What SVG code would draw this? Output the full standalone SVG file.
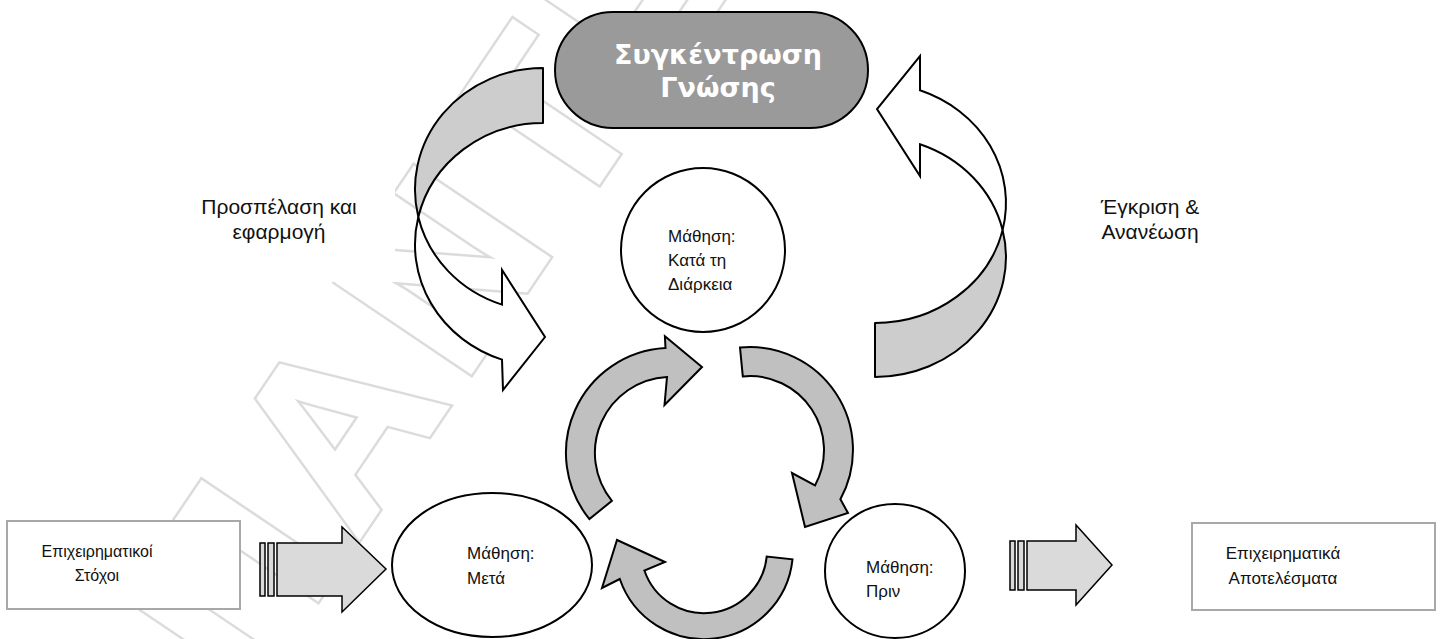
<svg xmlns="http://www.w3.org/2000/svg" width="1443" height="639" viewBox="0 0 1443 639">
  <defs>
    <style>
      .lbl{font-family:"Liberation Sans",Arial,sans-serif;font-size:21px;fill:#111}
      .txt{font-family:"Liberation Sans",Arial,sans-serif;font-size:17px;fill:#111}
      .sm{font-size:16px}
      .mid{text-anchor:middle}
      .title{font-family:"DejaVu Sans","Liberation Sans",sans-serif;font-weight:bold;font-size:27px;fill:#fff;text-anchor:middle}
      .node{fill:#fff;stroke:#000;stroke-width:2}
      .box{fill:#fff;stroke:#a8a8a8;stroke-width:2}
      .back{fill:#cdcdcd;stroke:#000;stroke-width:2;stroke-linejoin:round}
      .front{fill:#fff;stroke:#000;stroke-width:2;stroke-linejoin:miter}
      .cyc{fill:#c0c0c0;stroke:#000;stroke-width:2;stroke-linejoin:miter}
      .flow{fill:#dadada;stroke:#000;stroke-width:1.5}
      .wm{font-family:"Liberation Sans",Arial,sans-serif;font-weight:bold;font-size:235px;letter-spacing:20px}
    </style>
    <filter id="soft" x="-10%" y="-10%" width="120%" height="120%">
      <feGaussianBlur stdDeviation="0.7"/>
    </filter>
  </defs>

  <rect width="1443" height="639" fill="#fff"/>

  <!-- faint background watermark -->
  <g id="watermark" filter="url(#soft)" opacity="0.5">
    <text class="wm" transform="translate(250,700) rotate(-56)" fill="none" stroke="#b9b9b9" stroke-width="8">ΠΑΝΤΕΙΟ</text>
    <text class="wm" transform="translate(250,700) rotate(-56)" fill="#fff" stroke="#fff" stroke-width="3">ΠΑΝΤΕΙΟ</text>
  </g>

  <!-- plain backdrop under the left side label -->
  <rect x="158" y="185" width="237" height="97" fill="#fff"/>

  <g id="connectors">
    <!-- left curved arrow: back band then front band with head -->
    <path class="back" d="M543,68 A128,121.5 0 0 0 418.3,217 A128,121.5 0 0 1 543,123 Z"/>
    <path class="front" d="M418.3,217 A128,121.5 0 0 0 502,359.6 L503,390 L545,337 L502,270 L502,304.6 A128,121.5 0 0 1 418.3,217 Z"/>

    <!-- right curved arrow -->
    <path class="back" d="M1002.6,230 A131,120 0 0 1 875,377 L875,323 A131,120 0 0 0 1002.6,230 Z"/>
    <path class="front" d="M1002.6,230 A131,120 0 0 0 920,90.3 L920,56 L877,109 L920,176 L920,144.3 A131,120 0 0 1 1002.6,230 Z"/>

    <!-- cycle of three circular arrows -->
    <path class="cyc" d="M589.4,519.1 A105,105 0 0 1 665.5,348.1 L664.9,336.2 L702,367 L664.5,405 L667,377 A76,76 0 0 0 611.9,500.8 Z"/>
    <path class="cyc" d="M740,347.5 A103,103 0 0 1 840.4,499.3 L848,513 L805,527 L792,473 L815,485.4 A74,74 0 0 0 742.8,376.4 Z"/>
    <path class="cyc" d="M792.5,559.3 A89,89 0 0 1 619.8,579 L602,588 L617,540 L665,562 L644.4,570.5 A63,63 0 0 0 766.7,556.6 Z"/>

    <!-- striped input arrow -->
    <rect class="flow" x="260" y="543" width="5" height="53"/>
    <rect class="flow" x="268" y="543" width="6" height="53"/>
    <path class="flow" d="M277,543 L342,543 L342,527 L386,569 L342,612 L342,596 L277,596 Z"/>

    <!-- striped output arrow -->
    <rect class="flow" x="1010" y="541" width="5" height="49"/>
    <rect class="flow" x="1018" y="541" width="6" height="49"/>
    <path class="flow" d="M1027,541 L1076,541 L1076,525 L1112,565 L1076,605 L1076,590 L1027,590 Z"/>
  </g>

  <g id="n-knowledge">
    <rect x="555" y="12" width="313" height="116" rx="58" ry="58" fill="#9a9a9a" stroke="#000" stroke-width="2"/>
    <text class="title" x="718" y="64">Συγκέντρωση</text>
    <text class="title" x="718" y="97">Γνώσης</text>
  </g>

  <g id="n-during">
    <circle class="node" cx="703" cy="250" r="82"/>
    <text class="txt" x="668" y="242">Μάθηση:</text>
    <text class="txt" x="668" y="266">Κατά τη</text>
    <text class="txt" x="668" y="290">Διάρκεια</text>
  </g>

  <g id="n-after">
    <ellipse class="node" cx="492" cy="565" rx="100" ry="72"/>
    <text class="txt" x="467" y="559">Μάθηση:</text>
    <text class="txt" x="467" y="584">Μετά</text>
  </g>

  <g id="n-before">
    <ellipse class="node" cx="895" cy="571" rx="70" ry="67"/>
    <text class="txt" x="866" y="573">Μάθηση:</text>
    <text class="txt" x="866" y="597">Πριν</text>
  </g>

  <g id="n-goals">
    <rect class="box" x="7" y="521" width="233" height="88"/>
    <text class="txt sm mid" x="97" y="557">Επιχειρηματικοί</text>
    <text class="txt sm mid" x="97" y="581">Στόχοι</text>
  </g>

  <g id="n-results">
    <rect class="box" x="1192" y="523" width="243" height="87"/>
    <text class="txt mid" x="1283" y="559">Επιχειρηματικά</text>
    <text class="txt mid" x="1283" y="584">Αποτελέσματα</text>
  </g>

  <g id="l-access">
    <text class="lbl mid" x="279" y="214">Προσπέλαση και</text>
    <text class="lbl mid" x="279" y="239">εφαρμογή</text>
  </g>

  <g id="l-approve">
    <text class="lbl mid" x="1150" y="214">Έγκριση &amp;</text>
    <text class="lbl mid" x="1150" y="239">Ανανέωση</text>
  </g>
</svg>
